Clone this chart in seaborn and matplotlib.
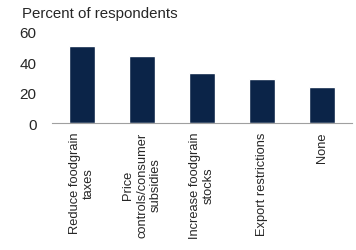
import pandas as pd
import matplotlib
matplotlib.use("Agg")
import matplotlib.pyplot as plt
import seaborn as sns

# data
categories = ["Reduce foodgrain\ntaxes", "Price\ncontrols/consumer\nsubsidies",
              "Increase foodgrain\nstocks", "Export restrictions", "None"]
percent = [51, 44, 33, 29, 24]

df = pd.DataFrame({"measure": categories, "percent": percent})

sns.set_style("white")
plt.rcParams['font.family'] = ['Liberation Sans', 'DejaVu Sans']

fig = plt.figure(figsize=(3.56, 2.51), dpi=100)
ax = fig.add_axes([52 / 356, 1 - 124 / 251, 300 / 356, 91 / 251])

sns.barplot(x="measure", y="percent", data=df, color="#0b2448", width=0.42,
            saturation=1, ax=ax)

ax.set_ylim(0, 60)
ax.set_yticks([0, 20, 40, 60])
ax.set_xlabel("")
ax.set_ylabel("")
ax.tick_params(axis='y', length=0, labelsize=11, pad=11)
ax.tick_params(axis='x', length=0, labelsize=9.3, pad=6)
for lab in ax.get_xticklabels():
    lab.set_rotation(90)
    lab.set_multialignment('center')

for side in ['left', 'right', 'top']:
    ax.spines[side].set_visible(False)
ax.spines['bottom'].set_color('#a0a0a0')
ax.spines['bottom'].set_linewidth(0.8)

fig.text(22 / 356, 1 - 14 / 251, "Percent of respondents", fontsize=10.8,
         va='center', ha='left')

fig.savefig("out.png", dpi=100)
